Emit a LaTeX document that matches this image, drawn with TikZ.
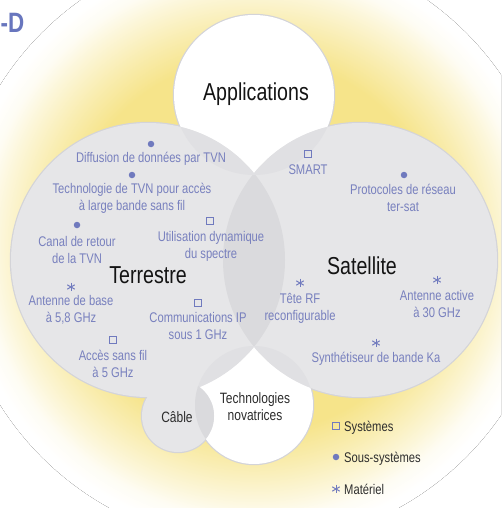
\documentclass[tikz,border=0pt]{standalone}
\usepackage{fontspec}
\setmainfont{Liberation Sans}[FakeStretch=0.8]
\definecolor{glowY}{RGB}{246,228,138}
\colorlet{glowM}{glowY!68!white}
\colorlet{glowL}{glowY!32!white}
\colorlet{glowX}{glowY!10!white}
\definecolor{cgray}{RGB}{230,230,232}
\definecolor{cmid}{RGB}{224,224,227}
\definecolor{cdark}{RGB}{218,218,221}
\definecolor{cline}{RGB}{212,212,216}
\definecolor{colMk}{RGB}{112,122,190}
\definecolor{colLbl}{RGB}{120,128,190}
\definecolor{colTtl}{RGB}{104,118,190}
\definecolor{colDk}{RGB}{45,45,45}
\pgfdeclareradialshading{glow}{\pgfpoint{0bp}{0bp}}{color(0bp)=(glowY); color(15.6bp)=(glowY); color(18.3bp)=(glowM); color(21.1bp)=(glowL); color(22.7bp)=(glowX); color(24.3bp)=(white); color(50bp)=(white)}
\tikzset{
  sqmark/.style={draw=colMk, line width=1.1pt, minimum size=7pt, inner sep=0pt},
  dotmark/.style={circle, fill=colMk, minimum size=6.5pt, inner sep=0pt},
  astmark/.style={minimum size=9pt, inner sep=0pt, path picture={
    \foreach \a in {90,30,150}{
      \draw[colMk, line width=1pt] ([shift={(\a:4.3pt)}]path picture bounding box.center) -- ([shift={({\a+180}:4.3pt)}]path picture bounding box.center);}
  }},
  lbltext/.style={font=\fontsize{14}{17}\selectfont, text=colLbl, align=center, inner sep=0pt, anchor=base},
  bigtext/.style={font=\fontsize{24.5}{28}\selectfont, text=black!92, inner sep=0pt, anchor=base},
  midtext/.style={font=\fontsize{15}{17}\selectfont, text=colDk, align=center, inner sep=0pt, anchor=base},
  legtext/.style={font=\fontsize{14}{17}\selectfont, text=colDk, inner sep=0pt, anchor=base west},
}
\def\capp{(254,95) circle (80)}
\def\cterr{(148,260) circle (137)}
\def\csat{(360,260) circle (137)}
\def\ctech{(254,405) circle (59)}
\def\ccab{(178,416) circle (36)}
\begin{document}
\begin{tikzpicture}[x=1pt,y=-1pt]
\useasboundingbox (0,0) rectangle (501,508);
\clip (0,0) rectangle (501,508);
\fill[white] (0,0) rectangle (501,508);
\fill[shading=glow] (254,245) circle (300);
% outlines
\foreach \c in {\capp,\cterr,\csat,\ctech,\ccab}{\draw[cline, line width=2.4pt] \c;}
% fills
\fill[white] \capp;
\fill[white] \ctech;
\fill[cgray] \cterr;
\fill[cgray] \csat;
\fill[cgray] \ccab;
\begin{scope}\clip \cterr; \fill[cdark] \csat;\end{scope}
\begin{scope}\clip \capp; \fill[cmid] \cterr; \fill[cmid] \csat;\end{scope}
\begin{scope}\clip \ctech; \fill[cmid] \cterr; \fill[cmid] \csat; \fill[cdark] \ccab;\end{scope}
% title
\node[font=\fontsize{28}{28}\bfseries\selectfont, text=colTtl, inner sep=0pt, anchor=base east] (title) at (24.5,33) {-D};
% main labels
\node[bigtext] (apps) at (256,100) {Applications};
\node[bigtext] (terr) at (148,283) {Terrestre};
\node[bigtext] (sat) at (362,274) {Satellite};
\node[midtext] (cable) at (177,422) {Câble};
\node[midtext] (techn) at (255,420) {Technologies\\novatrices};
% markers and labels
\node[dotmark] (m1) at (151,144) {};
\node[lbltext] (l1) at (151,162) {Diffusion de données par TVN};
\node[dotmark] (m2) at (132,175) {};
\node[lbltext] (l2) at (132,210) {Technologie de TVN pour accès\\à large bande sans fil};
\node[dotmark] (m3) at (77,225) {};
\node[lbltext] (l3) at (77,263) {Canal de retour\\de la TVN};
\node[sqmark] (m4) at (210,221) {};
\node[lbltext] (l4) at (211,258) {Utilisation dynamique\\du spectre};
\node[astmark] (m5) at (71,287) {};
\node[lbltext] (l5) at (71,322) {Antenne de base\\à 5,8 GHz};
\node[sqmark] (m6) at (198,303) {};
\node[lbltext] (l6) at (198,339) {Communications IP\\sous 1 GHz};
\node[sqmark] (m7) at (113,340) {};
\node[lbltext] (l7) at (113,377) {Accès sans fil\\à 5 GHz};
\node[sqmark] (m8) at (308,154) {};
\node[lbltext] (l8) at (308,174) {SMART};
\node[dotmark] (m9) at (404,175) {};
\node[lbltext] (l9) at (403,211) {Protocoles de réseau\\ter-sat};
\node[astmark] (m10) at (300,283) {};
\node[lbltext] (l10) at (300,320) {Tête RF\\reconfigurable};
\node[astmark] (m11) at (437,280) {};
\node[lbltext] (l11) at (437,317) {Antenne active\\à 30 GHz};
\node[astmark] (m12) at (376,343) {};
\node[lbltext] (l12) at (376,362) {Synthétiseur de bande Ka};
% legend
\node[sqmark] (k1) at (336,426) {};
\node[legtext] (t1) at (344,431) {Systèmes};
\node[dotmark] (k2) at (336,457) {};
\node[legtext] (t2) at (344,462) {Sous-systèmes};
\node[astmark] (k3) at (336,489) {};
\node[legtext] (t3) at (344,494) {Matériel};
\end{tikzpicture}
\end{document}
